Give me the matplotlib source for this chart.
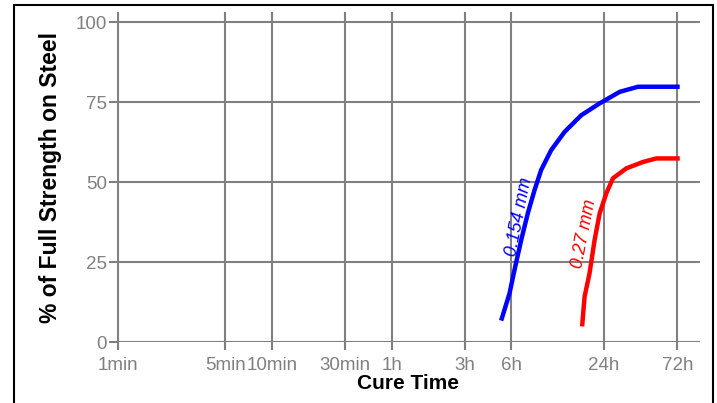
import numpy as np
import matplotlib.pyplot as plt
from matplotlib.patches import Rectangle

# cure time in minutes, strength in %
tick_minutes = [1, 5, 10, 30, 60, 180, 360, 1440, 4320]
tick_labels = ['1min', '5min', '10min', '30min', '1h', '3h', '6h', '24h', '72h']
y_ticks = [0, 25, 50, 75, 100]

thin_time = [312, 350, 381, 417, 460, 509, 562, 653, 798, 1024, 1348, 1819, 2393, 4320]
thin_strength = [7.4, 15.2, 23.5, 31.9, 40.2, 47.5, 53.8, 60.0, 65.7, 70.9, 74.6, 78.2, 79.8, 79.8]

thick_time = [1040, 1076, 1159, 1250, 1348, 1490, 1645, 2010, 2579, 3150, 4320]
thick_strength = [5.6, 14.2, 21.5, 31.9, 40.2, 46.5, 51.2, 54.3, 56.3, 57.4, 57.4]

plt.rcParams['font.family'] = ['Liberation Sans', 'DejaVu Sans']

fig = plt.figure(figsize=(7.17, 4.03), dpi=100)
ax = fig.add_axes([0.163, 0.151, 0.813, 0.818])

ax.set_xscale('log')
ax.set_xlim(0.985, 6030)
ax.set_ylim(0, 103)

grid_col = '#808080'
for t in tick_minutes:
    ax.axvline(t, color=grid_col, lw=1.5, zorder=1)
for v in y_ticks:
    ax.axhline(v, color=grid_col, lw=1.5, zorder=1)

ax.plot(thin_time, thin_strength, color='#0000ff', lw=3.2, solid_joinstyle='round', zorder=3)
ax.plot(thick_time, thick_strength, color='#ff0000', lw=3.2, solid_joinstyle='round', zorder=3)

ax.text(405, 39, '0.154 mm', color='#0000ff', rotation=79, fontsize=13,
        ha='center', va='center', style='italic')
ax.text(1075, 34, '0.27 mm', color='#ff0000', rotation=79, fontsize=13,
        ha='center', va='center', style='italic')

ax.set_xticks(tick_minutes)
ax.set_xticklabels(tick_labels)
ax.minorticks_off()
ax.set_yticks(y_ticks)
ax.tick_params(colors=grid_col, labelcolor='#808080', labelsize=13.5,
               length=6, width=1.5)
ax.tick_params(axis='x', pad=5)
ax.tick_params(axis='y', pad=1)
for s in ax.spines.values():
    s.set_visible(False)

ax.set_xlabel('Cure Time', fontsize=15, fontweight='bold', labelpad=0)
ax.set_ylabel('% of Full Strength on Steel', fontsize=16.5, fontweight='bold', labelpad=10)

fig.patches.append(Rectangle((14 / 717, -0.05), 699 / 717, 1 - 5 / 403 + 0.05,
                             transform=fig.transFigure, fill=False,
                             edgecolor='black', lw=1.5, clip_on=False))

fig.savefig('out.png', dpi=100)
